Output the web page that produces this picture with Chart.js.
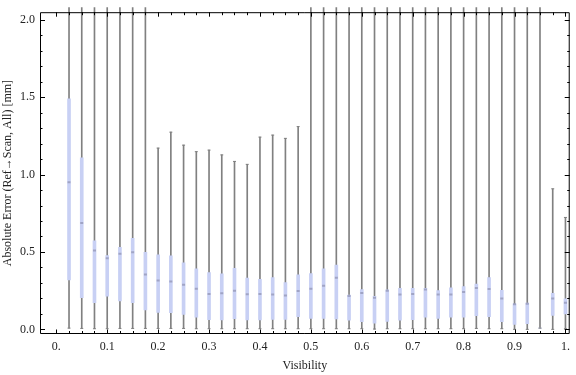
<!DOCTYPE html>
<html><head><meta charset="utf-8">
<script src="https://cdn.jsdelivr.net/npm/chart.js@4.4.0/dist/chart.umd.min.js"></script>
<style>html,body{margin:0;padding:0;background:#fff;}canvas{display:block;}</style>
</head><body>
<canvas id="c" width="576" height="375" style="width:576px;height:375px"></canvas>
<script>
// ---- data ----
const visibility = [0.025,0.05,0.075,0.1,0.125,0.15,0.175,0.2,0.225,0.25,
  0.275,0.3,0.325,0.35,0.375,0.4,0.425,0.45,0.475,0.5,
  0.525,0.55,0.575,0.6,0.625,0.65,0.675,0.7,0.725,0.75,
  0.775,0.8,0.825,0.85,0.875,0.9,0.925,0.95,0.975,1.0];
const whiskerLow = [0.008,0.006,0.004,0.004,0.006,0.006,0.006,0.006,0.006,0.006,
  0.004,0.004,0.004,0.004,0.004,0.004,0.004,0.004,0.004,0.004,
  0.004,0.004,0.004,0.004,0.002,0.004,0.004,0.004,0.004,0.004,
  0.004,0.004,0.006,0.004,0.004,0.0,0.0,0.008,0.0,0.004];
const q1 = [0.32,0.204,0.172,0.214,0.183,0.172,0.126,0.109,0.107,0.097,
  0.078,0.063,0.061,0.069,0.061,0.061,0.065,0.065,0.082,0.071,
  0.071,0.067,0.059,0.050,0.040,0.052,0.059,0.063,0.078,0.071,
  0.078,0.078,0.088,0.082,0.050,0.032,0.036,0.008,0.090,0.099];
const median = [0.95,0.687,0.509,0.46,0.488,0.498,0.355,0.315,0.309,0.288,
  0.263,0.229,0.233,0.250,0.227,0.229,0.225,0.219,0.248,0.263,
  0.282,0.334,0.215,0.235,0.204,0.25,0.225,0.229,0.257,0.225,
  0.225,0.241,0.267,0.260,0.200,0.162,0.166,null,0.200,0.172];
const q3 = [1.49,1.108,0.572,0.477,0.530,0.588,0.498,0.481,0.475,0.429,
  0.391,0.366,0.359,0.395,0.332,0.324,0.334,0.303,0.353,0.361,
  0.391,0.416,0.221,0.257,0.214,0.255,0.265,0.265,0.265,0.250,
  0.269,0.277,0.292,0.334,0.252,0.165,0.170,0.008,0.233,0.197];
const whiskerHigh = [2.5,2.5,2.5,2.5,2.5,2.5,2.5,1.171,1.274,1.19,
  1.148,1.158,1.127,1.085,1.066,1.242,1.255,1.234,1.310,2.5,
  2.5,2.5,2.5,2.5,2.5,2.5,2.5,2.5,2.5,2.5,
  2.5,2.5,2.5,2.5,2.5,2.5,2.5,2.5,0.908,0.723];
const xTickValues = [0,0.1,0.2,0.3,0.4,0.5,0.6,0.7,0.8,0.9,1.0];
const xTickLabels = ["0.","0.1","0.2","0.3","0.4","0.5","0.6","0.7","0.8","0.9","1."];
const yTickValues = [0,0.5,1.0,1.5,2.0];
const yTickLabels = ["0.0","0.5","1.0","1.5","2.0"];
const xMinorStep = 0.025, yMinorStep = 0.1;
const X_MIN = -0.032, X_MAX = 1.0084, Y_MIN = -0.03, Y_MAX = 2.049;

const FONT = '"Liberation Serif", "Times New Roman", serif';
const TXT = '#222';
const WHISKER = '#808080';
const BOX = '#c8d0f4';

const framePlugin = {
  id: 'frame',
  afterDatasetsDraw(chart) {
    const {ctx, chartArea: a, scales: {x, y}} = chart;
    ctx.save();
    ctx.strokeStyle = '#000';
    ctx.lineWidth = 1;
    ctx.beginPath();
    ctx.rect(a.left + 0.5, a.top + 0.5, a.right - a.left - 1, a.bottom - a.top - 1);
    ctx.stroke();
    ctx.beginPath();
    for (let k = 0; k * xMinorStep <= 1.0001; k++) {
      const px = Math.round(x.getPixelForValue(k * xMinorStep)) + 0.5;
      const len = (k % 4 === 0) ? 4.5 : 3;
      ctx.moveTo(px, a.bottom); ctx.lineTo(px, a.bottom - len);
      ctx.moveTo(px, a.top); ctx.lineTo(px, a.top + len);
    }
    for (let k = 0; k * yMinorStep <= 2.0001; k++) {
      const py = Math.round(y.getPixelForValue(k * yMinorStep)) + 0.5;
      const len = (k % 5 === 0) ? 5 : 2.5;
      ctx.moveTo(a.left, py); ctx.lineTo(a.left + len, py);
      ctx.moveTo(a.right, py); ctx.lineTo(a.right - len, py);
    }
    ctx.stroke();
    ctx.restore();
  }
};

const whiskerData = visibility.map((v, i) => ({x: v, y: [whiskerLow[i], whiskerHigh[i]]}));
const boxData = visibility.map((v, i) => ({x: v, y: [q1[i], q3[i]]}));
const medianData = visibility.map((v, i) => ({x: v, y: median[i]})).filter(p => p.y !== null);
const capData = [];
visibility.forEach((v, i) => {
  capData.push({x: v, y: whiskerLow[i]});
  if (whiskerHigh[i] < Y_MAX) capData.push({x: v, y: whiskerHigh[i]});
});

new Chart(document.getElementById('c'), {
  type: 'bar',
  data: {
    datasets: [
      {type: 'bar', data: whiskerData, backgroundColor: WHISKER, borderWidth: 0,
       barThickness: 1, grouped: false, order: 4, clip: {left: 1, top: 5, right: 1, bottom: 0}},
      {type: 'bar', data: boxData, backgroundColor: BOX, borderWidth: 0,
       barThickness: 3, grouped: false, order: 3, clip: {left: 2, top: 5, right: 2, bottom: 0}},
      {type: 'scatter', data: capData, showLine: false, pointStyle: 'line', pointRadius: 1.5,
       pointBorderWidth: 1, pointBorderColor: WHISKER, pointBackgroundColor: WHISKER, order: 2, clip: 3},
      {type: 'scatter', data: medianData, showLine: false, pointStyle: 'line', pointRadius: 1.5,
       pointBorderWidth: 2, pointBorderColor: 'rgba(120,120,150,0.5)', order: 1, clip: 3}
    ]
  },
  options: {
    responsive: false,
    devicePixelRatio: 1,
    animation: false,
    events: [],
    layout: {padding: {top: 4, right: 1, left: 0, bottom: 0}},
    plugins: {legend: {display: false}, tooltip: {enabled: false}},
    scales: {
      x: {
        type: 'linear', min: X_MIN, max: X_MAX, offset: false,
        grid: {display: false, drawTicks: false, offset: false},
        border: {display: false},
        afterBuildTicks: s => { s.ticks = xTickValues.map(v => ({value: v})); },
        ticks: {autoSkip: false, maxRotation: 0, padding: 6, color: TXT,
                font: {family: FONT, size: 12}, callback: (v, i) => xTickLabels[i]},
        title: {display: true, text: 'Visibility', color: TXT,
                font: {family: FONT, size: 12}, padding: {top: 0, bottom: 2}},
        afterFit: s => { s.height = 41; }
      },
      y: {
        type: 'linear', min: Y_MIN, max: Y_MAX,
        grid: {display: false, drawTicks: false},
        border: {display: false},
        afterBuildTicks: s => { s.ticks = yTickValues.map(v => ({value: v})); },
        ticks: {autoSkip: false, padding: 5, color: TXT,
                font: {family: FONT, size: 12}, callback: (v, i) => yTickLabels[i]},
        title: {display: true, text: 'Absolute Error (Ref\u2192Scan, All) [mm]', color: TXT,
                font: {family: FONT, size: 12}, padding: {top: 1, bottom: 0}},
        afterFit: s => { s.width = 40; }
      }
    }
  },
  plugins: [framePlugin]
});
</script>
</body></html>
